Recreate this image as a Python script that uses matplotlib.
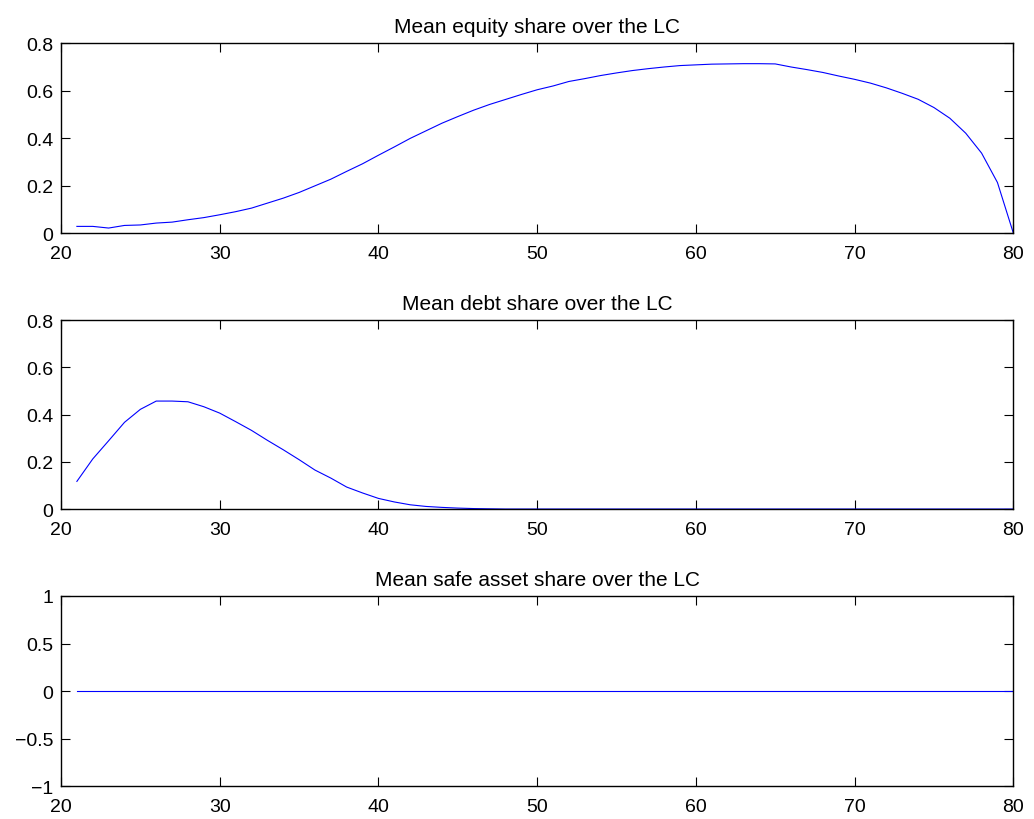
import numpy as np
import matplotlib.pyplot as plt

plt.rcParams['font.family'] = ['Liberation Sans', 'DejaVu Sans']

age = np.arange(21, 81)

equity_share = [
    0.028, 0.028, 0.021, 0.032, 0.034, 0.042, 0.046, 0.056, 0.065, 0.077,
    0.090, 0.105, 0.126, 0.147, 0.171, 0.199, 0.227, 0.260, 0.292, 0.328,
    0.363, 0.399, 0.431, 0.463, 0.491, 0.518, 0.542, 0.563, 0.584, 0.604,
    0.620, 0.639, 0.651, 0.664, 0.675, 0.685, 0.693, 0.700, 0.706, 0.709,
    0.712, 0.713, 0.714, 0.714, 0.713, 0.700, 0.689, 0.677, 0.662, 0.648,
    0.632, 0.612, 0.589, 0.564, 0.529, 0.484, 0.421, 0.337, 0.213, 0.000,
]

debt_share = [
    0.117, 0.212, 0.289, 0.367, 0.422, 0.457, 0.457, 0.454, 0.433, 0.406,
    0.370, 0.333, 0.291, 0.251, 0.209, 0.165, 0.131, 0.093, 0.068, 0.045,
    0.030, 0.018, 0.011, 0.007, 0.004, 0.002, 0.001, 0.0, 0.0, 0.0,
    0.0, 0.0, 0.0, 0.0, 0.0, 0.0, 0.0, 0.0, 0.0, 0.0,
    0.0, 0.0, 0.0, 0.0, 0.0, 0.0, 0.0, 0.0, 0.0, 0.0,
    0.0, 0.0, 0.0, 0.0, 0.0, 0.0, 0.0, 0.0, 0.0, 0.0,
]

safe_share = [0.0] * len(age)

titles = [
    "Mean equity share over the LC",
    "Mean debt share over the LC",
    "Mean safe asset share over the LC",
]
ylims = [(0, 0.8), (0, 0.8), (-1, 1)]
yticks = [
    [0, 0.2, 0.4, 0.6, 0.8],
    [0, 0.2, 0.4, 0.6, 0.8],
    [-1, -0.5, 0, 0.5, 1],
]
yticklabels = [
    ["0", "0.2", "0.4", "0.6", "0.8"],
    ["0", "0.2", "0.4", "0.6", "0.8"],
    ["\u22121", "\u22120.5", "0", "0.5", "1"],
]
xticks = [20, 30, 40, 50, 60, 70, 80]

fig = plt.figure(figsize=(10.34, 8.2), dpi=100)

# [left, bottom, width, height] in figure fractions
left, width = 0.059, 0.921
boxes = [
    (0.7146, 0.2314),
    (0.378, 0.2305),
    (0.040, 0.232),
]

series = [equity_share, debt_share, safe_share]

for i in range(3):
    bottom, height = boxes[i]
    ax = fig.add_axes([left, bottom, width, height])
    ax.plot(age, series[i], color="blue", linewidth=0.8)
    ax.set_xlim(20, 80)
    ax.set_ylim(*ylims[i])
    ax.set_xticks(xticks)
    ax.set_yticks(yticks[i])
    ax.set_yticklabels(yticklabels[i])
    ax.set_title(titles[i], fontsize=15, pad=8)
    ax.tick_params(direction="in", length=6.5, width=0.8, labelsize=14,
                   top=True, right=True)
    ax.tick_params(axis="y", pad=5.5)
    ax.tick_params(axis="x", pad=8.5)
    for s in ax.spines.values():
        s.set_linewidth(1.0)

fig.savefig("out.png", dpi=100)
